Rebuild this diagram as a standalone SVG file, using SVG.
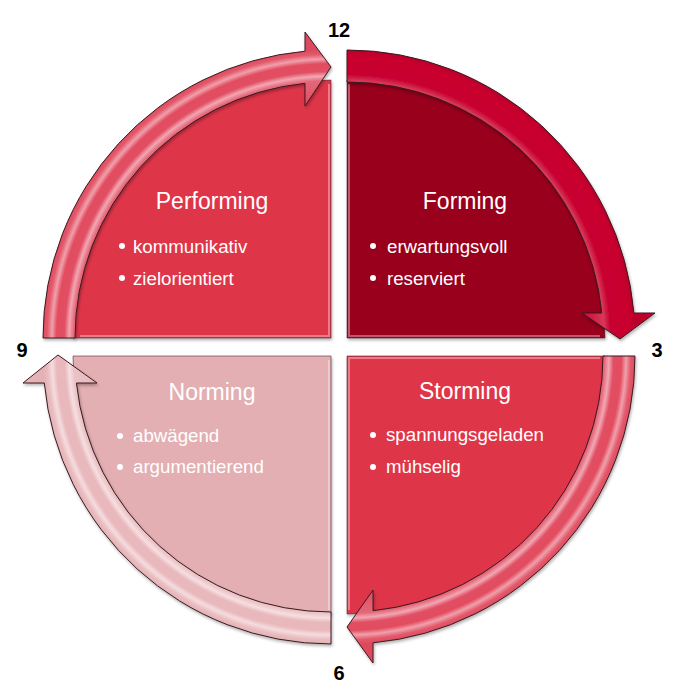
<svg xmlns="http://www.w3.org/2000/svg" width="679" height="695" viewBox="0 0 679 695">
<style>
.title{font-family:"Liberation Sans",Arial,sans-serif;font-size:23px;fill:#fff;text-anchor:middle}
.item{font-family:"Liberation Sans",Arial,sans-serif;font-size:18.7px;fill:#fff}
.num{font-family:"Liberation Sans",Arial,sans-serif;font-size:20px;font-weight:bold;fill:#000;text-anchor:middle}
.ring{stroke:#3a1a1e;stroke-width:1;stroke-linejoin:round}
.quad{stroke:#4a2a2e;stroke-width:0.8;stroke-opacity:0.7}
.edge{fill:none;stroke:#fff;stroke-opacity:0.35;stroke-width:2}
.dot{fill:#fff}
</style>
<defs>
<filter id="sh" x="-5%" y="-5%" width="110%" height="110%">
<feDropShadow dx="1" dy="2" stdDeviation="1.5" flood-color="#000" flood-opacity="0.3"/>
</filter>
<radialGradient id="gP" gradientUnits="userSpaceOnUse" cx="331" cy="338" r="310">
<stop offset="0.75" stop-color="#e14a5e"/>
<stop offset="0.83" stop-color="#e4677a"/>
<stop offset="0.845" stop-color="#f2a7b2"/>
<stop offset="0.86" stop-color="#e14f63"/>
<stop offset="0.885" stop-color="#e24c60"/>
<stop offset="0.9" stop-color="#f0a0ab"/>
<stop offset="0.915" stop-color="#e45a6d"/>
<stop offset="0.93" stop-color="#dc4a5e"/>
<stop offset="1" stop-color="#e14a5e"/>
</radialGradient>
<radialGradient id="gF" gradientUnits="userSpaceOnUse" cx="347" cy="338" r="310">
<stop offset="0.75" stop-color="#c8002e"/>
<stop offset="0.83" stop-color="#d6385a"/>
<stop offset="0.85" stop-color="#c80030"/>
<stop offset="0.91" stop-color="#c9002f"/>
<stop offset="0.93" stop-color="#b8002a"/>
<stop offset="1" stop-color="#c8002e"/>
</radialGradient>
<radialGradient id="gS" gradientUnits="userSpaceOnUse" cx="347" cy="356" r="310">
<stop offset="0.75" stop-color="#e14a5e"/>
<stop offset="0.83" stop-color="#e4677a"/>
<stop offset="0.845" stop-color="#f2a7b2"/>
<stop offset="0.86" stop-color="#e14f63"/>
<stop offset="0.885" stop-color="#e24c60"/>
<stop offset="0.9" stop-color="#f0a0ab"/>
<stop offset="0.915" stop-color="#e45a6d"/>
<stop offset="0.93" stop-color="#dc4a5e"/>
<stop offset="1" stop-color="#e14a5e"/>
</radialGradient>
<radialGradient id="gN" gradientUnits="userSpaceOnUse" cx="331" cy="356" r="310">
<stop offset="0.75" stop-color="#e8b7bb"/>
<stop offset="0.83" stop-color="#ebc2c6"/>
<stop offset="0.845" stop-color="#f6dfe1"/>
<stop offset="0.86" stop-color="#e8b8bc"/>
<stop offset="0.885" stop-color="#e8b8bc"/>
<stop offset="0.9" stop-color="#f5dcdf"/>
<stop offset="0.915" stop-color="#e9bcc0"/>
<stop offset="0.93" stop-color="#e3b0b5"/>
<stop offset="1" stop-color="#e8b7bb"/>
</radialGradient>
</defs>

<g id="performing">
<path class="quad" filter="url(#sh)" d="M331,338 L73,338 A258 258 0 0 1 331,80 Z" fill="#df364a"/>
<polyline class="edge" points="329,84 329,336 80,336"/>
<text class="title" x="212" y="209">Performing</text>
<circle class="dot" cx="122" cy="246" r="3"/>
<text class="item" x="133" y="253">kommunikativ</text>
<circle class="dot" cx="122" cy="278" r="3"/>
<text class="item" x="133" y="285">zielorientiert</text>
</g>

<g id="forming">
<path class="quad" filter="url(#sh)" d="M347,338 L347,80 A258 258 0 0 1 605,338 Z" fill="#98001f"/>
<polyline class="edge" points="349,84 349,336 600,336"/>
<text class="title" x="465" y="209">Forming</text>
<circle class="dot" cx="373" cy="246" r="3"/>
<text class="item" x="387" y="253">erwartungsvoll</text>
<circle class="dot" cx="373" cy="278" r="3"/>
<text class="item" x="387" y="285">reserviert</text>
</g>

<g id="storming">
<path class="quad" filter="url(#sh)" d="M347,356 L605,356 A258 258 0 0 1 347,614 Z" fill="#df364a"/>
<polyline class="edge" points="600,358 349,358 349,610"/>
<text class="title" x="465" y="399">Storming</text>
<circle class="dot" cx="373" cy="435" r="3"/>
<text class="item" x="386" y="441">spannungsgeladen</text>
<circle class="dot" cx="373" cy="467" r="3"/>
<text class="item" x="386" y="473">mühselig</text>
</g>

<g id="norming">
<path class="quad" filter="url(#sh)" d="M331,356 L331,614 A258 258 0 0 1 73,356 Z" fill="#e3afb3"/>
<polyline class="edge" points="329,360 329,610"/>
<text class="title" x="212" y="400">Norming</text>
<circle class="dot" cx="120" cy="436" r="3"/>
<text class="item" x="133" y="442">abwägend</text>
<circle class="dot" cx="120" cy="467" r="3"/>
<text class="item" x="133" y="473">argumentierend</text>
</g>

<g id="connectors">
<path id="arrow-performing" class="ring" filter="url(#sh)" fill="url(#gP)" d="M43,338 A288 288 0 0 1 305,51.2 L305,32 L331,67 L305,106 L305,83.3 A256 256 0 0 0 75,338 Z"/>
<path id="arrow-forming" class="ring" filter="url(#sh)" fill="url(#gF)" d="M347,50 A288 288 0 0 1 633.9,313 L655,313 L620,339 L582,313 L601.8,313 A256 256 0 0 0 347,82 Z"/>
<path id="arrow-storming" class="ring" filter="url(#sh)" fill="url(#gS)" d="M635,356 A288 288 0 0 1 373,642.8 L373,663 L347,627 L373,590 L373,610.7 A256 256 0 0 0 603,356 Z"/>
<path id="arrow-norming" class="ring" filter="url(#sh)" fill="url(#gN)" d="M331,644 A288 288 0 0 1 44.3,383 L23,383 L58,355 L97,383 L76.4,383 A256 256 0 0 0 331,612 Z"/>
</g>

<g id="labels">
<text class="num" x="339" y="37">12</text>
<text class="num" x="657" y="357">3</text>
<text class="num" x="339" y="680">6</text>
<text class="num" x="22" y="357">9</text>
</g>
</svg>
